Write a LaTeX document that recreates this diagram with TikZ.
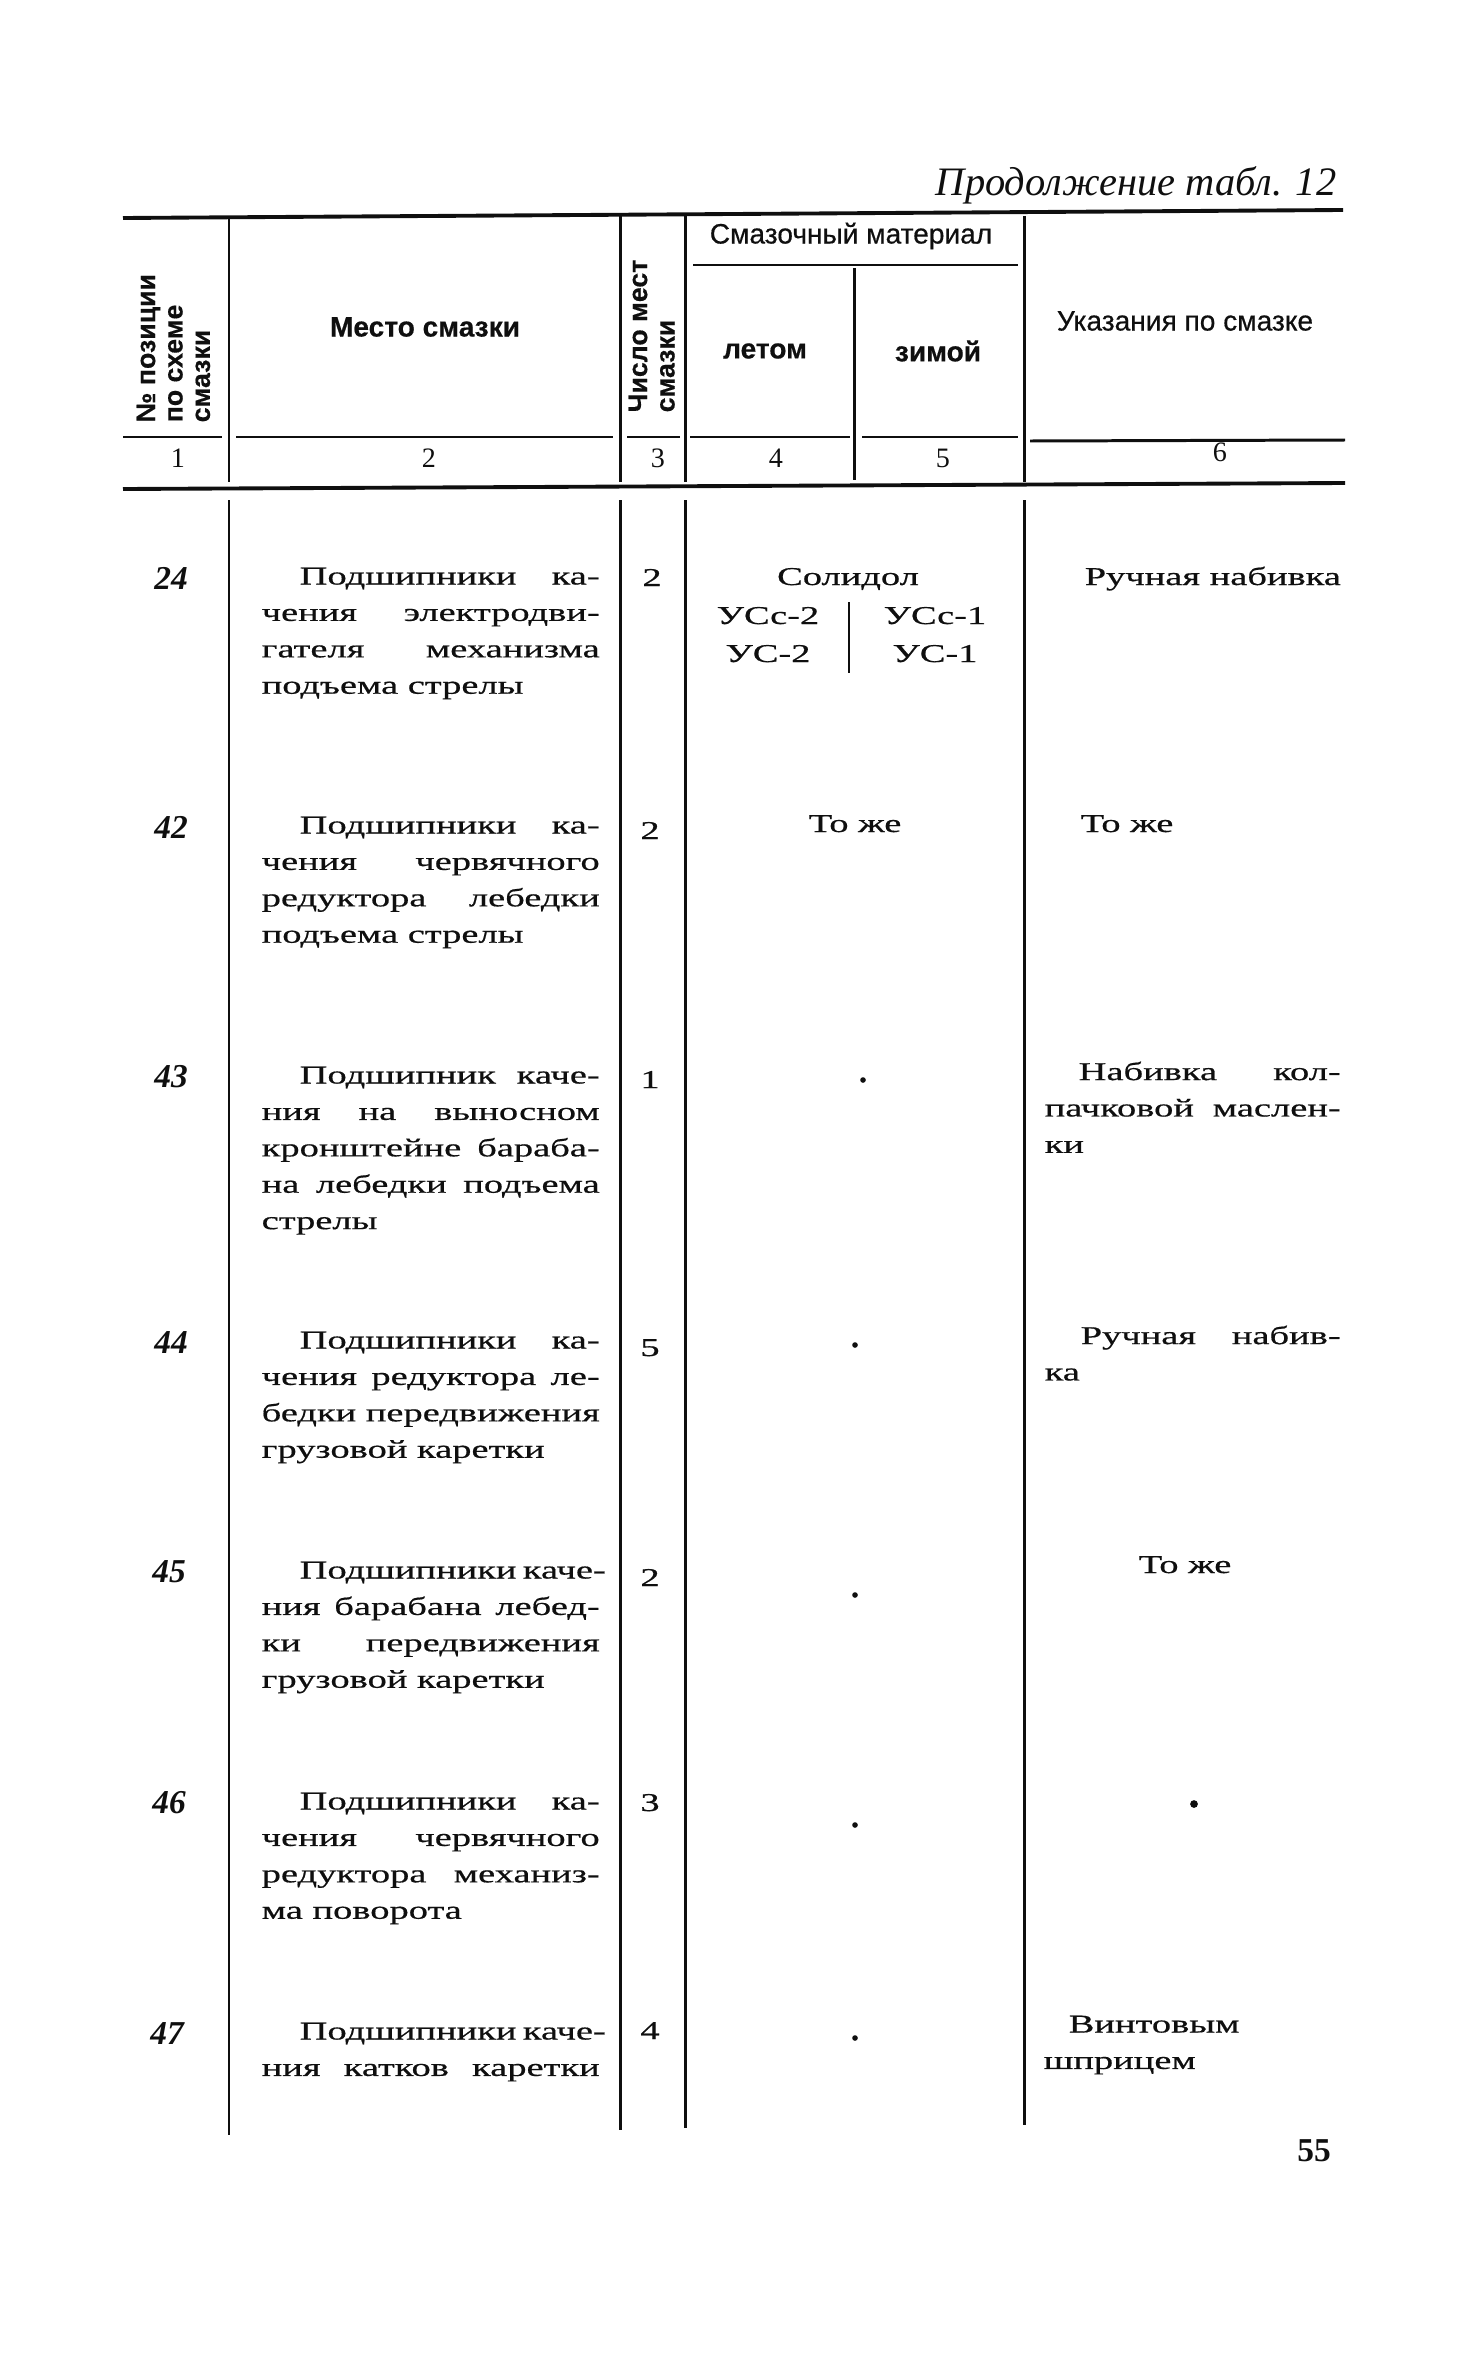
\documentclass[tikz,border=0pt]{standalone}
\usepackage{fontspec}
\setmainfont[FakeStretch=1.5,FakeBold=0.6]{Liberation Serif}
\newfontfamily\hdfont[FakeBold=0.5]{Liberation Sans}
\newfontfamily\numfont{Liberation Serif}
\usetikzlibrary{positioning}
\definecolor{tbInk}{RGB}{15,15,15}
\newcommand\bodyfs{\fontsize{7.3}{10.36}\selectfont}
\newcommand\jl[2][33.8mm]{\makebox[#1][s]{#2}}

\begin{document}
\begin{tikzpicture}[x=0.1mm, y=-0.1mm, color=tbInk,
  rule/.style={line width=1.1pt},
  hrule/.style={line width=0.85pt},
  vrule/.style={line width=0.85pt},
  place/.style={anchor=north west, inner sep=0pt, align=left, font=\bodyfs},
  cell/.style={anchor=base, inner sep=0pt, font=\bodyfs},
  posnum/.style={inner sep=0pt, font=\numfont\bfseries\itshape\fontsize{9.5}{10}\selectfont},
  colnum/.style={inner sep=0pt, font=\numfont\fontsize{8}{9}\selectfont},
  head/.style={inner sep=0pt, font=\hdfont\fontsize{8}{9}\selectfont},
  headb/.style={head, font=\hdfont\bfseries\fontsize{8}{9}\selectfont},
  rothead/.style={rotate=90, anchor=north west, inner sep=0pt, align=left,
    font=\hdfont\bfseries\fontsize{7.6}{7.8}\selectfont},
  ditto/.style={circle, fill, inner sep=0pt, minimum size=1.6pt}]
  \useasboundingbox (0,0) rectangle (1476,2362);

  % Title
  \node[anchor=base east, inner sep=0pt, font=\numfont\itshape\fontsize{11.5}{12}\selectfont]
    (ttl) at (1337,196) {Продолжение табл. 12};

  % Header rules
  \draw[rule] (123,218) -- (1343,210);
  \draw[hrule] (693,265) -- (1018,265);
  \foreach \a/\b in {123/222,236/613,627/680,690/850,862/1018}
    \draw[hrule] (\a,437) -- (\b,437);
  \draw[hrule] (1030,441) -- (1345,440);
  \draw[rule] (123,489) -- (1345,483);
  \foreach \x in {229,620,685,1024}
    \draw[vrule] (\x,216) -- (\x,482);
  \draw[vrule] (854,268) -- (854,480);

  % Header texts
  \node[rothead] (pos) at (136,423) {№ позиции\\по схеме\\смазки};
  \node[headb] (mesto) at (425,327) {Место смазки};
  \node[rothead] (cnt) at (628,413) {Число мест\\смазки};
  \node[head] (mat) at (851,236) {Смазочный материал};
  \node[headb] (leto) at (765,351) {летом};
  \node[headb] (zima) at (938,351) {зимой};
  \node[head] (ukaz) at (1185,321) {Указания по смазке};
  \node[colnum] (c1) at (178,458) {1};
  \node[colnum] (c2) at (429,458) {2};
  \node[colnum] (c3) at (658,458) {3};
  \node[colnum] (c4) at (776,458) {4};
  \node[colnum] (c5) at (943,458) {5};
  \node[colnum] (c6) at (1220,452) {6};

  % Body columns
  \foreach \x/\e in {229/2135,620/2130,685/2128,1024/2125}
    \draw[vrule] (\x,500) -- (\x,\e);

  % Row 24
  \node[posnum] (n24) at (171,578) {24};
  \node[place] (p24) at (261,567) {\jl{\hspace*{3.8mm}Подшипники ка-}\\\jl{чения электродви-}\\\jl{гателя механизма}\\подъема стрелы};
  \node[cell] (k24) at (652,586) {2};
  \node[cell] (m24) at (848,585) {Солидол};
  \node[cell] (ls24) at (768,624) {УСс-2};
  \node[cell] (ws24) at (935,624) {УСс-1};
  \node[cell] (lb24) at (768,662) {УС-2};
  \node[cell] (wb24) at (935,662) {УС-1};
  \draw[line width=0.6pt] (849,602) -- (849,673);
  \node[cell, anchor=base west] (u24) at (1084,585) {Ручная набивка};

  % Row 42
  \node[posnum] (n42) at (171,827) {42};
  \node[place] (p42) at (261,816) {\jl{\hspace*{3.8mm}Подшипники ка-}\\\jl{чения червячного}\\\jl{редуктора лебедки}\\подъема стрелы};
  \node[cell] (k42) at (650,839) {2};
  \node[cell] (m42) at (855,832) {То же};
  \node[cell, anchor=base west] (u42) at (1080,832) {То же};

  % Row 43
  \node[posnum] (n43) at (171,1077) {43};
  \node[place] (p43) at (261,1066) {\jl{\hspace*{3.8mm}Подшипник каче-}\\\jl{ния на выносном}\\\jl{кронштейне бараба-}\\\jl{на лебедки подъема}\\стрелы};
  \node[cell] (k43) at (650,1088) {1};
  \node[ditto] (d43) at (863,1080) {};
  \node[place] (u43) at (1044,1061) {\jl[29.6mm]{\hspace*{3.4mm}Набивка кол-}\\\jl[29.6mm]{пачковой маслен-}\\ки};

  % Row 44
  \node[posnum] (n44) at (171,1342) {44};
  \node[place] (p44) at (261,1331) {\jl{\hspace*{3.8mm}Подшипники ка-}\\\jl{чения редуктора ле-}\\\jl{бедки передвижения}\\грузовой каретки};
  \node[cell] (k44) at (650,1356) {5};
  \node[ditto] (d44) at (855,1345) {};
  \node[place] (u44) at (1044,1325) {\jl[29.6mm]{\hspace*{3.6mm}Ручная набив-}\\ка};

  % Row 45
  \node[posnum] (n45) at (169,1572) {45};
  \node[place] (p45) at (261,1561) {\jl{\hspace*{3.8mm}Подшипники каче-}\\\jl{ния барабана лебед-}\\\jl{ки передвижения}\\грузовой каретки};
  \node[cell] (k45) at (650,1586) {2};
  \node[ditto] (d45) at (855,1595) {};
  \node[cell] (u45) at (1185,1573) {То же};

  % Row 46
  \node[posnum] (n46) at (169,1803) {46};
  \node[place] (p46) at (261,1792) {\jl{\hspace*{3.8mm}Подшипники ка-}\\\jl{чения червячного}\\\jl{редуктора механиз-}\\ма поворота};
  \node[cell] (k46) at (650,1811) {3};
  \node[ditto] (d46) at (855,1825) {};
  \node[ditto, minimum size=2.2pt] (u46) at (1194,1804) {};

  % Row 47
  \node[posnum] (n47) at (167,2033) {47};
  \node[place] (p47) at (261,2022) {\jl{\hspace*{3.8mm}Подшипники каче-}\\\jl{ния катков каретки}};
  \node[cell] (k47) at (650,2039) {4};
  \node[ditto] (d47) at (855,2038) {};
  \node[place] (u47) at (1043,2015) {\hspace*{2.5mm}Винтовым\\шприцем};

  % Page number
  \node[inner sep=0pt, font=\numfont\bfseries\fontsize{9.5}{10}\selectfont] (pg) at (1314,2151) {55};
\end{tikzpicture}
\end{document}
